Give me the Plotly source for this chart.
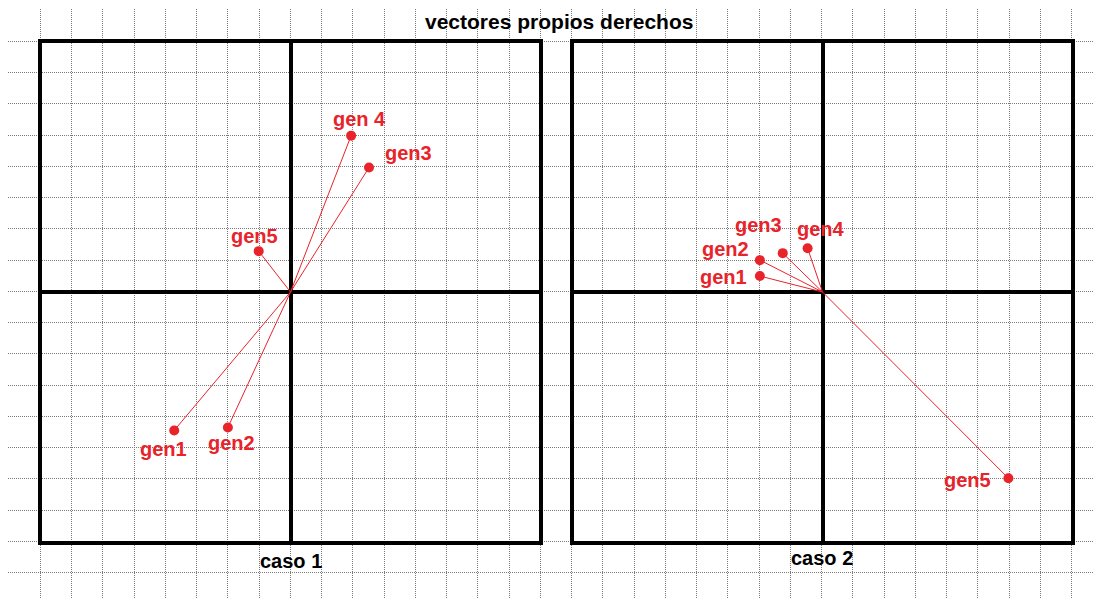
import plotly.graph_objects as go

W, H = 1093, 599
RED = "#e8232a"
FONT = "Liberation Sans, Arial, sans-serif"

genes = ["gen1", "gen2", "gen3", "gen 4", "gen5"]
genes2 = ["gen1", "gen2", "gen3", "gen4", "gen5"]

# caso 1 eigenvector components
c1_x = [-0.468, -0.252, 0.316, 0.244, -0.128]
c1_y = [-0.556, -0.544, 0.500, 0.628, 0.164]
# caso 2 eigenvector components
c2_x = [-0.252, -0.252, -0.160, -0.060, 0.748]
c2_y = [0.064, 0.128, 0.156, 0.176, -0.748]

# label placement (anchor, x shift, y shift in px)
c1_lab = [("center", -11, -19), ("center", 4, -16), ("left", 14, 15),
          ("center", 8, 17), ("center", -4, 15)]
c2_lab = [("right", -11, -1), ("right", -9, 11), ("center", -24, 28),
          ("center", 13, 19), ("right", -15, -2)]

fig = go.Figure()

# invisible trace for background grid-paper axes
fig.add_trace(go.Scatter(x=[0], y=[0], xaxis="x", yaxis="y", mode="markers",
                         marker=dict(opacity=0), hoverinfo="skip", showlegend=False))


def add_panel(xs, ys, xa, ya):
    lx, ly = [], []
    for a, b in zip(xs, ys):
        lx += [0, a, None]
        ly += [0, b, None]
    fig.add_trace(go.Scatter(x=lx, y=ly, xaxis=xa, yaxis=ya, mode="lines",
                             line=dict(color=RED, width=1), showlegend=False,
                             hoverinfo="skip"))
    fig.add_trace(go.Scatter(x=xs, y=ys, xaxis=xa, yaxis=ya, mode="markers",
                             marker=dict(color=RED, size=10), showlegend=False))


add_panel(c1_x, c1_y, "x2", "y2")
add_panel(c2_x, c2_y, "x3", "y3")

annotations = []
for names, xs, ys, labs, xa, ya in [(genes, c1_x, c1_y, c1_lab, "x2", "y2"),
                                     (genes2, c2_x, c2_y, c2_lab, "x3", "y3")]:
    for n, a, b, (anc, dx, dy) in zip(names, xs, ys, labs):
        annotations.append(dict(x=a, y=b, xref=xa, yref=ya, text="<b>" + n + "</b>",
                                showarrow=False, xanchor=anc, yanchor="middle",
                                xshift=dx, yshift=dy,
                                font=dict(family=FONT, size=20, color=RED)))

annotations.append(dict(x=559 / W, y=1 - 22 / H, xref="paper", yref="paper",
                        text="<b>vectores propios derechos</b>", showarrow=False,
                        xanchor="center", yanchor="middle",
                        font=dict(family=FONT, size=21, color="black")))
annotations.append(dict(x=291 / W, y=1 - 561 / H, xref="paper", yref="paper",
                        text="<b>caso 1</b>", showarrow=False,
                        xanchor="center", yanchor="middle",
                        font=dict(family=FONT, size=20, color="black")))
annotations.append(dict(x=822 / W, y=1 - 558 / H, xref="paper", yref="paper",
                        text="<b>caso 2</b>", showarrow=False,
                        xanchor="center", yanchor="middle",
                        font=dict(family=FONT, size=20, color="black")))

grid = dict(showgrid=True, gridcolor="#7a7a7a", gridwidth=1, griddash="1px,1px",
            zeroline=False, showticklabels=False, ticks="", showline=False,
            fixedrange=True)
panel = dict(showgrid=False, zeroline=True, zerolinecolor="black", zerolinewidth=3.5,
             showline=True, mirror=True, linecolor="black", linewidth=3.5,
             showticklabels=False, ticks="", range=[-1, 1], fixedrange=True)

fig.update_layout(
    width=W, height=H, margin=dict(l=0, r=0, t=0, b=0),
    paper_bgcolor="white", plot_bgcolor="rgba(0,0,0,0)",
    showlegend=False,
    xaxis=dict(domain=[8 / W, 1], range=[8, W], tick0=9, dtick=31.25, **grid),
    yaxis=dict(domain=[0, 1 - 9 / H], range=[H, 9], tick0=10, dtick=31.25, **grid),
    xaxis2=dict(domain=[42 / W, 539 / W], anchor="y2", **panel),
    yaxis2=dict(domain=[1 - 541 / H, 1 - 43 / H], anchor="x2", **panel),
    xaxis3=dict(domain=[574 / W, 1071 / W], anchor="y3", **panel),
    yaxis3=dict(domain=[1 - 541 / H, 1 - 43 / H], anchor="x3", **panel),
    annotations=annotations,
)

fig.write_html("out.html", config={"displayModeBar": False},
               post_script="document.body.style.margin='0';document.body.style.overflow='hidden';")
